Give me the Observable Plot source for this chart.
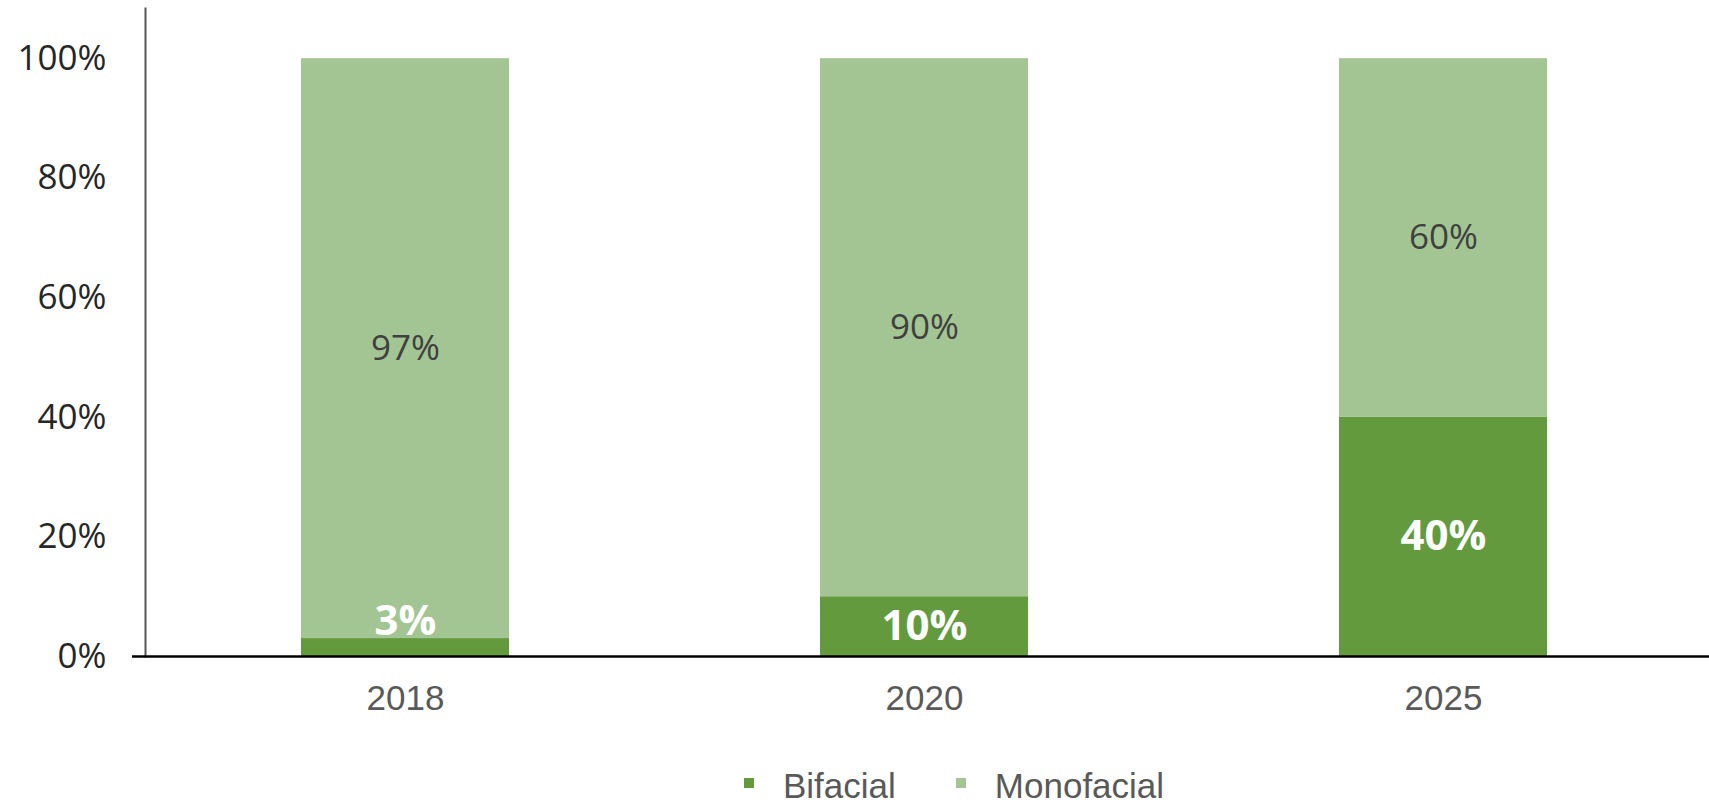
<!DOCTYPE html>
<html>
<head>
<meta charset="utf-8">
<script src="https://cdn.jsdelivr.net/npm/d3@7"></script>
<script src="https://cdn.jsdelivr.net/npm/@observablehq/plot@0.6"></script>
<style>
  html, body { margin: 0; padding: 0; background: #fff; }
  #chart { width: 1709px; }
  .legend {
    display: flex; align-items: center;
    height: 38px; padding-top: 17px; padding-left: 744px;
    font-family: "Liberation Sans", Arial, sans-serif; font-size: 35px; color: #595959;
  }
  .legend .item { display: flex; align-items: center; margin-right: 60px; }
  .legend .swatch { width: 10px; height: 10px; margin-right: 29px; position: relative; top: -3px; }
  .legend .name { line-height: 38px; }
</style>
</head>
<body>
<div id="chart"></div>
<script>
// Module type shares by year
const years = ["2018", "2020", "2025"];
const series = ["Bifacial", "Monofacial"];
const bifacial = [0.03, 0.10, 0.40];
const monofacial = [0.97, 0.90, 0.60];
const seriesColors = ["#629a3d", "#a3c593"];
const yTicks = [0, 0.2, 0.4, 0.6, 0.8, 1];
const yTickLabels = ["0%", "20%", "40%", "60%", "80%", "100%"];

const rows = years.flatMap((year, i) => [
  {year, type: series[0], share: bifacial[i]},
  {year, type: series[1], share: monofacial[i]}
]);

const pct = d3.format(".0%");
const labelFont = "'Open Sans', 'Noto Sans', sans-serif";
const axisFont = "'Liberation Sans', Arial, sans-serif";

const chart = Plot.plot({
  width: 1709,
  height: 750,
  marginLeft: 145,
  marginRight: 7,
  marginTop: 8,
  marginBottom: 94,
  style: {background: "#fff", overflow: "visible"},
  x: {domain: years, paddingInner: 0.6, paddingOuter: 0.3, label: null},
  y: {domain: [0, 1.084], label: null},
  color: {domain: series, range: seriesColors},
  marks: [
    Plot.barY(rows, Plot.stackY({x: "year", y: "share", z: "type", fill: "type"})),
    // Bifacial labels (white, bold); very thin segments get their label lifted
    Plot.text(rows, Plot.stackY({
      x: "year", y: "share", z: "type",
      text: d => d.type === series[0] && d.share >= 0.05 ? pct(d.share) : null,
      fill: "white", fontWeight: 700, fontSize: 42, fontFamily: labelFont
    })),
    Plot.text(rows, Plot.stackY({
      x: "year", y: "share", z: "type",
      text: d => d.type === series[0] && d.share < 0.05 ? pct(d.share) : null,
      fill: "white", fontWeight: 700, fontSize: 42, fontFamily: labelFont, dy: -26
    })),
    // Monofacial labels
    Plot.text(rows, Plot.stackY({
      x: "year", y: "share", z: "type",
      text: d => d.type === series[1] ? pct(d.share) : null,
      fill: "#404040", fontSize: 35, fontFamily: labelFont
    })),
    Plot.axisY({
      ticks: yTicks,
      tickFormat: d => yTickLabels[yTicks.indexOf(d)],
      tickSize: 0, tickPadding: 39,
      fontSize: 35, fontFamily: labelFont, fill: "#262626", label: null
    }),
    Plot.axisX({
      tickSize: 0, tickPadding: 29,
      fontSize: 35, fontFamily: axisFont, fill: "#595959", label: null
    }),
    Plot.frame({anchor: "left", stroke: "#555", strokeWidth: 2}),
    Plot.ruleY([0], {stroke: "#000", strokeWidth: 2.5, insetLeft: -13, insetRight: -7})
  ]
});

const root = document.getElementById("chart");
root.appendChild(chart);

// Legend below the plot
const legend = document.createElement("div");
legend.className = "legend";
series.forEach((name, i) => {
  const item = document.createElement("div");
  item.className = "item";
  const sw = document.createElement("span");
  sw.className = "swatch";
  sw.style.background = seriesColors[i];
  const label = document.createElement("span");
  label.className = "name";
  label.textContent = name;
  item.appendChild(sw);
  item.appendChild(label);
  legend.appendChild(item);
});
root.appendChild(legend);
</script>
</body>
</html>
